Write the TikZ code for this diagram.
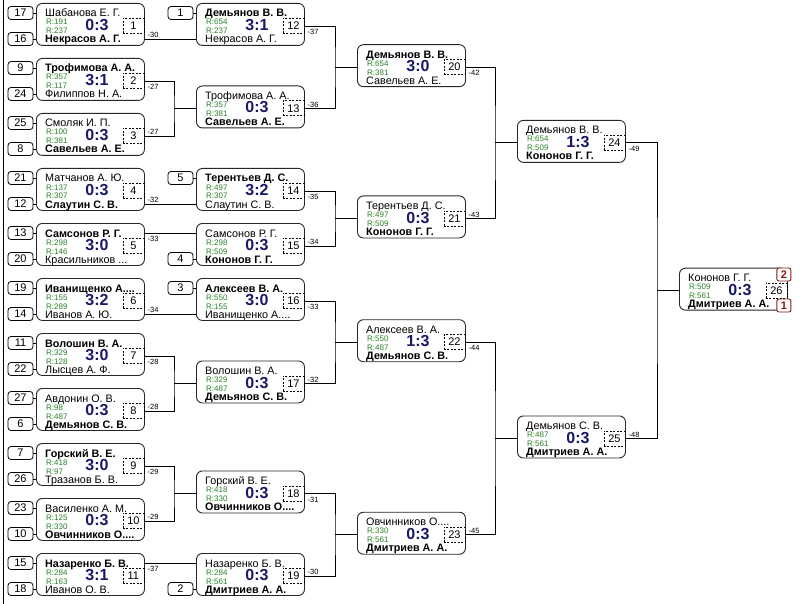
\documentclass[tikz,border=0pt]{standalone}
\usepackage{fontspec}
\setmainfont{Liberation Sans}
\usepackage{tikz}
\definecolor{ratcol}{RGB}{40,130,40}
\definecolor{scorecol}{RGB}{25,25,105}
\definecolor{placecol}{RGB}{140,25,25}

\newcommand{\bout}[8]{%
  \node[matchbox] (#1) at (#2) {};
  \node[plname] (#1-a) at ([shift={(9,14)}]#1.north west) {#3};
  \node[rating] (#1-ra) at ([shift={(10,22)}]#1.north west) {R:#5};
  \node[rating] (#1-rb) at ([shift={(10,31)}]#1.north west) {R:#6};
  \node[plname] (#1-b) at ([shift={(9,40)}]#1.north west) {#4};
  \node[score] (#1-s) at ([shift={(61,27.5)}]#1.north west) {#7};
  \node[numbox] (#1-n) at ([shift={(-11.5,22.8)}]#1.north east) {#8};
  \coordinate (#1-ti) at ([yshift=-10pt]#1.north west);
  \coordinate (#1-bi) at ([yshift=-36pt]#1.north west);
  \coordinate (#1-ci) at ([yshift=-23pt]#1.north west);
  \coordinate (#1-to) at ([yshift=-10pt]#1.north east);
  \coordinate (#1-bo) at ([yshift=-36pt]#1.north east);
  \coordinate (#1-co) at ([yshift=-23pt]#1.north east);
}

\begin{document}
\begin{tikzpicture}[x=1pt,y=-1pt,
  matchbox/.style={draw=black!85,line width=0.9pt,rounded corners=6pt,fill=white,
    minimum width=108pt,minimum height=42pt,anchor=north west,inner sep=0pt},
  plname/.style={anchor=base west,inner sep=0pt,font=\fontsize{10.8}{12}\selectfont},
  rating/.style={anchor=base west,inner sep=0pt,text=ratcol,font=\fontsize{8}{9}\selectfont},
  score/.style={anchor=base,inner sep=0pt,text=scorecol,font=\fontsize{16}{16}\selectfont\bfseries},
  numbox/.style={draw,dash pattern=on 2pt off 1.5pt,line width=0.6pt,minimum width=21pt,
    minimum height=15pt,inner sep=0pt,font=\fontsize{11}{12}\selectfont},
  seed/.style={draw,rounded corners=3pt,line width=0.8pt,minimum width=25pt,minimum height=13pt,
    inner sep=0pt,font=\fontsize{11}{12}\selectfont},
  placebox/.style={draw=placecol,fill=white,rounded corners=2pt,line width=0.9pt,minimum width=14pt,
    minimum height=13pt,inner sep=0pt,text=placecol,font=\fontsize{11}{12}\selectfont\bfseries},
  link/.style={line width=0.8pt},
  res/.style={anchor=west,inner sep=0pt,font=\fontsize{7.5}{9}\selectfont}]
\useasboundingbox (0,0) rectangle (800,604);
\draw[link] (3,0) -- (3,604);

\bout{m1}{36,3}{Шабанова Е. Г.}{\textbf{Некрасов А. Г.}}{191}{237}{0:3}{1}
\bout{m2}{36,58}{\textbf{Трофимова А. А.}}{Филиппов Н. А.}{357}{117}{3:1}{2}
\bout{m3}{36,113}{Смоляк И. П.}{\textbf{Савельев А. Е.}}{100}{381}{0:3}{3}
\bout{m4}{36,168}{Матчанов А. Ю.}{\textbf{Слаутин С. В.}}{137}{307}{0:3}{4}
\bout{m5}{36,223}{\textbf{Самсонов Р. Г.}}{Красильников ...}{298}{146}{3:0}{5}
\bout{m6}{36,278}{\textbf{Иванищенко А....}}{Иванов А. Ю.}{155}{289}{3:2}{6}
\bout{m7}{36,333}{\textbf{Волошин В. А.}}{Лысцев А. Ф.}{329}{128}{3:0}{7}
\bout{m8}{36,388}{Авдонин О. В.}{\textbf{Демьянов С. В.}}{98}{487}{0:3}{8}
\bout{m9}{36,443}{\textbf{Горский В. Е.}}{Тразанов Б. В.}{418}{97}{3:0}{9}
\bout{m10}{36,498}{Василенко А. М.}{\textbf{Овчинников О....}}{125}{330}{0:3}{10}
\bout{m11}{36,553}{\textbf{Назаренко Б. В.}}{Иванов О. В.}{284}{163}{3:1}{11}

\bout{m12}{196,3}{\textbf{Демьянов В. В.}}{Некрасов А. Г.}{654}{237}{3:1}{12}
\bout{m13}{196,85.5}{Трофимова А. А.}{\textbf{Савельев А. Е.}}{357}{381}{0:3}{13}
\bout{m14}{196,168}{\textbf{Терентьев Д. С.}}{Слаутин С. В.}{497}{307}{3:2}{14}
\bout{m15}{196,223}{Самсонов Р. Г.}{\textbf{Кононов Г. Г.}}{298}{509}{0:3}{15}
\bout{m16}{196,278}{\textbf{Алексеев В. А.}}{Иванищенко А....}{550}{155}{3:0}{16}
\bout{m17}{196,360.5}{Волошин В. А.}{\textbf{Демьянов С. В.}}{329}{487}{0:3}{17}
\bout{m18}{196,470.5}{Горский В. Е.}{\textbf{Овчинников О....}}{418}{330}{0:3}{18}
\bout{m19}{196,553}{Назаренко Б. В.}{\textbf{Дмитриев А. А.}}{284}{561}{0:3}{19}

\bout{m20}{357,44.25}{\textbf{Демьянов В. В.}}{Савельев А. Е.}{654}{381}{3:0}{20}
\bout{m21}{357,195.5}{Терентьев Д. С.}{\textbf{Кононов Г. Г.}}{497}{509}{0:3}{21}
\bout{m22}{357,319.25}{Алексеев В. А.}{\textbf{Демьянов С. В.}}{550}{487}{1:3}{22}
\bout{m23}{357,511.75}{Овчинников О....}{\textbf{Дмитриев А. А.}}{330}{561}{0:3}{23}

\bout{m24}{517,119.9}{Демьянов В. В.}{\textbf{Кононов Г. Г.}}{654}{509}{1:3}{24}
\bout{m25}{517,415.5}{Демьянов С. В.}{\textbf{Дмитриев А. А.}}{487}{561}{0:3}{25}

\bout{m26}{679,267.7}{Кононов Г. Г.}{\textbf{Дмитриев А. А.}}{509}{561}{0:3}{26}
\node[placebox] (p2) at ([shift={(-4,6.8)}]m26.north east) {2};
\node[placebox] (p1) at ([shift={(-4,37.8)}]m26.north east) {1};

\foreach \s/\m/\r in {17/m1/ti,16/m1/bi,9/m2/ti,24/m2/bi,25/m3/ti,8/m3/bi,21/m4/ti,12/m4/bi,
  13/m5/ti,20/m5/bi,19/m6/ti,14/m6/bi,11/m7/ti,22/m7/bi,27/m8/ti,6/m8/bi,7/m9/ti,26/m9/bi,
  23/m10/ti,10/m10/bi,15/m11/ti,18/m11/bi,1/m12/ti,5/m14/ti,4/m15/bi,3/m16/ti,2/m19/bi} {
  \node[seed] (s\s) at ([xshift=-15.5pt]\m-\r) {\s};
  \draw[link] (s\s) -- (\m-\r);
}

\draw[link] (m1-bo) -- (m12-bi);
\draw[link] (m4-bo) -- (m14-bi);
\draw[link] (m5-to) -- (m15-ti);
\draw[link] (m6-bo) -- (m16-bi);
\draw[link] (m11-to) -- (m19-ti);
\foreach \a/\b/\c in {m2/m3/m13,m7/m8/m17,m9/m10/m18,m12/m13/m20,m14/m15/m21,
  m16/m17/m22,m18/m19/m23,m20/m21/m24,m22/m23/m25,m24/m25/m26} {
  \coordinate (j-\c) at ([xshift=-22pt]\c-ci);
  \draw[link] (\a-co) -| (j-\c) |- (\b-co);
  \draw[link] (j-\c) -- (\c-ci);
}

\foreach \m/\t/\p in {m1-bo/-30/-4,m2-co/-27/6,m3-co/-27/-4,m4-bo/-32/-4,m5-to/-33/6,
  m6-bo/-34/-4,m7-co/-28/6,m8-co/-28/-4,m9-co/-29/6,m10-co/-29/-4,m11-to/-37/6,
  m12-co/-37/6,m13-co/-36/-4,m14-co/-35/6,m15-co/-34/-4,m16-co/-33/6,m17-co/-32/-4,
  m18-co/-31/6,m19-co/-30/-4,m20-co/-42/6,m21-co/-43/-4,m22-co/-44/6,m23-co/-45/-4,
  m24-co/-49/6,m25-co/-48/-4}
  \node[res] (r-\m) at ([shift={(2.5,\p)}]\m) {\t};
\end{tikzpicture}
\end{document}
